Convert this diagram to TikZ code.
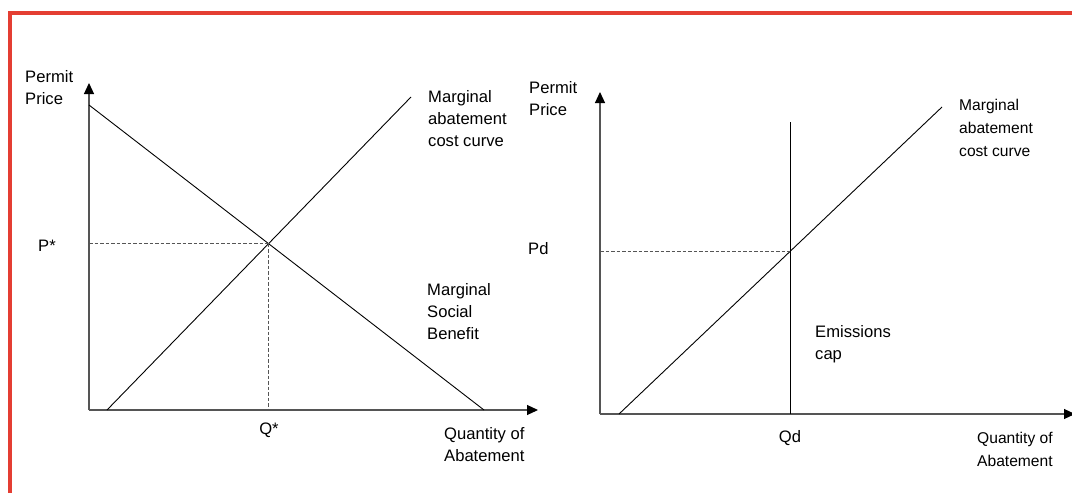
\documentclass[tikz,border=0pt]{standalone}
\usepackage{fontspec}
\setmainfont{Liberation Sans}
\usepackage{xcolor}
\usepackage{tikz}
\usetikzlibrary{arrows.meta, positioning}
\definecolor{frame}{RGB}{228, 62, 50}
\definecolor{axisgray}{RGB}{85, 85, 85}

\begin{document}
\begin{tikzpicture}[
    x=1pt, y=-1pt,
    lbl/.style={anchor=north west, inner sep=0pt, align=left, font=\fontsize{16.6}{22}\selectfont},
    lblsmall/.style={lbl, font=\fontsize{15.6}{23}\selectfont},
    axis/.style={draw=axisgray, line width=1.1pt, -{Triangle[length=11pt, width=10pt, color=black]}},
    curve/.style={line width=0.9pt},
    guide/.style={draw=axisgray, line width=0.8pt, dash pattern=on 3.5pt off 2pt}
]
    \useasboundingbox (0,0) rectangle (1072,493);
    \draw[frame, line width=4pt] (9.5,493) -- (9.5,12.7) -- (1072,12.7);

    % left panel
    \coordinate (o1) at (89,410);
    \coordinate (ytop1) at (89,83);
    \coordinate (xend1) at (538,410);
    \coordinate (msbA) at (89,105);
    \coordinate (msbB) at (484,410);
    \coordinate (macA) at (107,410);
    \coordinate (macB) at (411,97);
    \coordinate (eq1) at (intersection of msbA--msbB and macA--macB);

    \draw[axis] (o1) -- (ytop1);
    \draw[axis] (o1) -- (xend1);
    \draw[curve] (msbA) -- (msbB);
    \draw[curve] (macA) -- (macB);
    \draw[guide] (o1 |- eq1) -- (eq1);
    \draw[guide] (eq1) -- (eq1 |- o1);

    \node[lbl] (price1) at (25,70) {Permit\\Price};
    \node[lbl] (pstar) at (38,240) {P*};
    \node[lbl, anchor=north] (qstar) at (269,423) {Q*};
    \node[lbl] (qty1) at (444,427) {Quantity of\\Abatement};
    \node[lbl] (maclbl1) at (428,90) {Marginal\\abatement\\cost curve};
    \node[lbl] (msblbl) at (427,283) {Marginal\\Social\\Benefit};

    % right panel
    \coordinate (o2) at (600,414);
    \coordinate (ytop2) at (600,92);
    \coordinate (xend2) at (1075,414);
    \coordinate (macC) at (619,414);
    \coordinate (macD) at (942,107);
    \coordinate (capTop) at (790,122);
    \coordinate (capBot) at (capTop |- o2);
    \coordinate (eq2) at (intersection of macC--macD and capTop--capBot);

    \draw[axis] (o2) -- (ytop2);
    \draw[axis] (o2) -- (xend2);
    \draw[curve] (macC) -- (macD);
    \draw[curve] (capTop) -- (capBot);
    \draw[guide] (o2 |- eq2) -- (eq2);

    \node[lbl] (price2) at (529,81) {Permit\\Price};
    \node[lbl] (pd) at (528,242) {Pd};
    \node[lbl, anchor=north] (qd) at (790,430) {Qd};
    \node[lblsmall] (qty2) at (977,432) {Quantity of\\Abatement};
    \node[lblsmall] (maclbl2) at (959,99) {Marginal\\abatement\\cost curve};
    \node[lbl] (caplbl) at (815,325) {Emissions\\cap};
\end{tikzpicture}
\end{document}
